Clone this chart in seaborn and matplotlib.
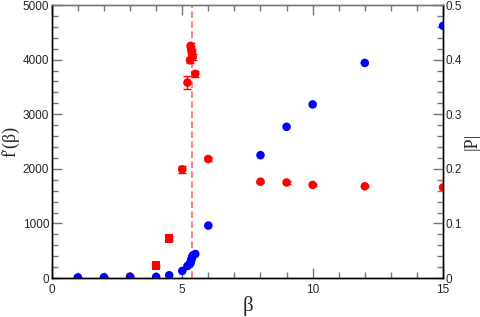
import numpy as np
import pandas as pd
import matplotlib
matplotlib.use('Agg')
import matplotlib.pyplot as plt
import seaborn as sns
from matplotlib.ticker import MultipleLocator, FuncFormatter

# data
beta = [1, 2, 3, 4, 4.5, 5, 5.2, 5.3, 5.32, 5.34, 5.36, 5.38, 5.4, 5.5, 6, 8, 9, 10, 12, 15]
fprime = [5, 10, 25, 225, 720, 1990, 3580, 3990, 4250, 4200, 4150, 4100, 4050, 3740,
          2180, 1765, 1750, 1705, 1680, 1660]
fprime_err = [0, 0, 0, 20, 30, 70, 120, 60, 50, 50, 50, 50, 50, 60, 30, 20, 20, 20, 20, 20]
fprime_marker = ['o', 'o', 'o', 's', 's'] + ['o'] * 15
absP = [0.001, 0.001, 0.002, 0.002, 0.005, 0.013, 0.022, 0.026, 0.029, 0.032, 0.035,
        0.038, 0.041, 0.044, 0.096, 0.225, 0.277, 0.318, 0.394, 0.462]
beta_c = 5.36

df = pd.DataFrame({'beta': beta, 'fprime': fprime, 'err': fprime_err,
                   'marker': fprime_marker, 'P': absP})

sns.set_style('ticks')
plt.rcParams['font.family'] = ['Liberation Sans', 'DejaVu Sans']
serif = ['Liberation Serif', 'DejaVu Serif']

fig = plt.figure(figsize=(4.8, 3.17), dpi=100)
ax = fig.add_axes([0.108, 0.123, 0.815, 0.861])
ax2 = ax.twinx()

# |P| on the right axis (blue)
sns.scatterplot(data=df, x='beta', y='P', ax=ax2, color='#0000ff', s=38,
                edgecolor='none', zorder=3)

# f'(beta) on the left axis (red)
ax.errorbar(df['beta'], df['fprime'], yerr=df['err'], fmt='none', ecolor='red',
            elinewidth=1, capsize=3, zorder=2)
sns.scatterplot(data=df, x='beta', y='fprime', style='marker',
                markers={'o': 'o', 's': 's'}, ax=ax, color='red', s=38,
                edgecolor='none', legend=False, zorder=3)
ax.axvline(beta_c, color='#ff6666', ls=(0, (4, 2)), lw=1.2, zorder=1)

ax.set_xlim(0, 15)
ax.set_ylim(0, 5000)
ax2.set_ylim(0, 0.5)

ax.xaxis.set_major_locator(MultipleLocator(5))
ax.xaxis.set_minor_locator(MultipleLocator(1))
ax.yaxis.set_major_locator(MultipleLocator(1000))
ax.yaxis.set_minor_locator(MultipleLocator(200))
ax2.yaxis.set_major_locator(MultipleLocator(0.1))
ax2.yaxis.set_minor_locator(MultipleLocator(0.02))
ax2.yaxis.set_major_formatter(FuncFormatter(lambda v, p: '%g' % round(v, 2)))

for a in (ax, ax2):
    a.tick_params(which='major', direction='in', length=7, width=1, color='#777777',
                  labelsize=8.5, pad=2)
    a.tick_params(which='minor', direction='in', length=4, width=1, color='#777777')
    for s in a.spines.values():
        s.set_linewidth(1)
        s.set_color('black')
ax.tick_params(axis='x', pad=4)
ax.tick_params(which='both', top=True, right=False)
ax.spines['top'].set_color('#777777')
ax2.spines['top'].set_color('#777777')

ax.set_xlabel('β', fontsize=15, family=serif, labelpad=0)
ax.set_ylabel('f\u2032(β)', fontsize=13, family=serif, labelpad=2)
ax2.set_ylabel('|P|', fontsize=13, family=serif, rotation=90, labelpad=1)

fig.savefig('out.png', dpi=100)
